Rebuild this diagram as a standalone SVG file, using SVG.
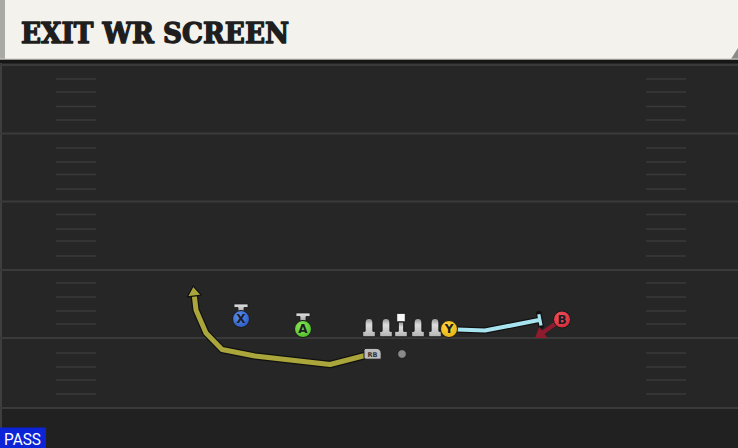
<svg xmlns="http://www.w3.org/2000/svg" width="738" height="448" viewBox="0 0 738 448">
<defs>
<style>
.yard{stroke:#3a3a3a;stroke-width:2}
.hash{stroke:#3a3a3a;stroke-width:1.5}
.lbl{font-family:"DejaVu Sans","Liberation Sans",sans-serif;font-weight:bold;font-size:12px;fill:#1c1c24;text-anchor:middle}
.ring{stroke:#1a1a1a;stroke-width:1}
.stance{fill:url(#gStance);stroke:#1a1a1a;stroke-width:0.8}
.lineman{fill:url(#gLine);stroke:#1a1a1a;stroke-width:1}
.out{fill:none;stroke:#111;stroke-linejoin:round;stroke-linecap:round}
</style>
<linearGradient id="gStance" x1="0" y1="0" x2="0" y2="1"><stop offset="0" stop-color="#e2e2e2"/><stop offset="1" stop-color="#a8a8a8"/></linearGradient>
<linearGradient id="gLine" x1="0" y1="0" x2="0" y2="1"><stop offset="0" stop-color="#8e8e8e"/><stop offset="0.35" stop-color="#dcdcdc"/><stop offset="1" stop-color="#b4b4b4"/></linearGradient>
<radialGradient id="gBlue" cx="0.4" cy="0.35" r="0.7"><stop offset="0" stop-color="#5b8ff0"/><stop offset="1" stop-color="#2a5bc0"/></radialGradient>
<radialGradient id="gGreen" cx="0.4" cy="0.35" r="0.7"><stop offset="0" stop-color="#8ee85a"/><stop offset="1" stop-color="#4cbc26"/></radialGradient>
<radialGradient id="gYellow" cx="0.4" cy="0.35" r="0.7"><stop offset="0" stop-color="#ffd83a"/><stop offset="1" stop-color="#e6b012"/></radialGradient>
<radialGradient id="gRed" cx="0.4" cy="0.35" r="0.7"><stop offset="0" stop-color="#f05560"/><stop offset="1" stop-color="#d02a36"/></radialGradient>
<marker id="arrYel" markerUnits="userSpaceOnUse" markerWidth="20" markerHeight="20" viewBox="-10 -10 20 20" refX="0" refY="0" orient="auto">
<polygon points="7,0 -3,-7 -3,7" fill="#aaa63c" stroke="#111" stroke-width="1.2" stroke-linejoin="round"/>
</marker>
<marker id="arrRed" markerUnits="userSpaceOnUse" markerWidth="20" markerHeight="20" viewBox="-10 -10 20 20" refX="0" refY="0" orient="auto">
<polygon points="6,0 -4,-7 -4,7" fill="#8e1b2e"/>
</marker>
</defs>

<!-- field -->
<rect x="0" y="0" width="738" height="448" fill="#262626"/>
<rect x="0" y="408" width="738" height="40" fill="#212121"/>
<rect x="0" y="59" width="2" height="389" fill="#3e3e3e"/>
<g id="yardlines">
<line class="yard" x1="0" y1="65" x2="738" y2="65"/>
<line class="yard" x1="0" y1="133.5" x2="738" y2="133.5"/>
<line class="yard" x1="0" y1="201.5" x2="738" y2="201.5"/>
<line class="yard" x1="0" y1="270" x2="738" y2="270"/>
<line class="yard" x1="0" y1="338" x2="738" y2="338"/>
<line class="yard" x1="0" y1="408" x2="738" y2="408"/>
</g>
<g id="hashes">
<path class="hash" d="M56 79H96M56 92H96M56 106.5H96M56 120H96M56 148H96M56 162H96M56 174.5H96M56 189H96M56 214.5H96M56 229H96M56 241H96M56 256H96M56 283H96M56 297H96M56 311H96M56 324H96M56 353H96M56 367H96M56 380H96M56 394H96"/>
<path class="hash" d="M646 79H686M646 92H686M646 106.5H686M646 120H686M646 148H686M646 162H686M646 174.5H686M646 189H686M646 214.5H686M646 229H686M646 241H686M646 256H686M646 283H686M646 297H686M646 311H686M646 324H686M646 353H686M646 367H686M646 380H686M646 394H686"/>
</g>

<!-- title bar -->
<g id="title">
<rect x="0" y="59" width="738" height="4" fill="#161616"/>
<rect x="0" y="0" width="738" height="59" fill="#f4f2ec"/>
<rect x="0" y="0" width="5" height="59" fill="#a9aaa8"/>
<polygon points="738,48 738,59 731,59" fill="#8a8a8a"/>
<rect x="0" y="58.5" width="738" height="1.2" fill="#cfcdc6"/>
<text x="21" y="42.5" font-family="'DejaVu Serif','Liberation Serif',serif" font-weight="bold" font-size="27" fill="#1e1e1e" stroke="#1e1e1e" stroke-width="1.4" stroke-linejoin="round" textLength="268" lengthAdjust="spacingAndGlyphs">EXIT WR SCREEN</text>
</g>

<!-- connectors -->
<g id="connectors">
<polyline class="out" stroke-width="7.5" points="365,355.5 330,364.5 255,356 222,349.5 206,333 196,310 194,294"/>
<polyline fill="none" stroke="#aaa63c" stroke-width="5" stroke-linejoin="round" stroke-linecap="round" points="365,355.5 330,364.5 255,356 222,349.5 206,333 196,310 194,293" marker-end="url(#arrYel)"/>
<polyline class="out" stroke-width="6.5" points="457,329.5 485,330.5 539,320"/>
<line class="out" stroke-width="5.5" x1="538.8" y1="313.5" x2="541" y2="326"/>
<polyline fill="none" stroke="#a8e4f0" stroke-width="4.2" stroke-linejoin="round" points="457,329.5 485,330.5 539,320"/>
<line stroke="#a8e4f0" stroke-width="3.2" stroke-linecap="butt" x1="538.8" y1="314.3" x2="541" y2="325.5"/>
<line stroke="#8e1b2e" stroke-width="4" x1="555" y1="324" x2="540" y2="334.5" marker-end="url(#arrRed)"/>
</g>

<!-- players -->
<g id="player-X">
<path class="stance" d="M234 304H248V307.5H244V312H238V307.5H234Z"/>
<circle class="ring" cx="241" cy="319" r="8.5" fill="url(#gBlue)"/>
<text class="lbl" x="241" y="323.3">X</text>
</g>
<g id="player-A">
<path class="stance" d="M296 313H310V316.5H306V321H300V316.5H296Z"/>
<circle class="ring" cx="303" cy="329" r="8.5" fill="url(#gGreen)"/>
<text class="lbl" x="303" y="333.3">A</text>
</g>
<g id="lineman-LT">
<path class="lineman" d="M369 318.3A3.9 3.9 0 0 1 372.9 322.2V331.3H375.3V336.8H362.7V331.3H365.1V322.2A3.9 3.9 0 0 1 369 318.3Z"/>
</g>
<g id="lineman-LG">
<path class="lineman" d="M386 318.3A3.9 3.9 0 0 1 389.9 322.2V331.3H392.3V336.8H379.7V331.3H382.1V322.2A3.9 3.9 0 0 1 386 318.3Z"/>
</g>
<g id="lineman-C">
<rect x="396.7" y="313.3" width="8.6" height="8.6" fill="#f8f8f8" stroke="#1a1a1a" stroke-width="1"/>
<path class="lineman" d="M398.3 322H403.7V331.3H407.3V336.8H394.7V331.3H398.3Z"/>
</g>
<g id="lineman-RG">
<path class="lineman" d="M418 318.3A3.9 3.9 0 0 1 421.9 322.2V331.3H424.3V336.8H411.7V331.3H414.1V322.2A3.9 3.9 0 0 1 418 318.3Z"/>
</g>
<g id="lineman-RT">
<path class="lineman" d="M435 318.3A3.9 3.9 0 0 1 438.9 322.2V331.3H441.3V336.8H428.7V331.3H431.1V322.2A3.9 3.9 0 0 1 435 318.3Z"/>
</g>
<g id="player-Y">
<circle class="ring" cx="449" cy="329" r="8.5" fill="url(#gYellow)"/>
<text class="lbl" x="449" y="333.3">Y</text>
</g>
<g id="player-QB">
<circle cx="402" cy="354" r="4.3" fill="#8a8a8a" stroke="#1a1a1a" stroke-width="0.8"/>
</g>
<g id="player-RB">
<path d="M366 348.3H376A5 5 0 0 1 381.2 353.5V359.2H366A2 2 0 0 1 364 357.2V350.3A2 2 0 0 1 366 348.3Z" fill="#bdbdbd" stroke="#1a1a1a" stroke-width="1"/>
<text x="372.5" y="356.8" font-family="'DejaVu Sans','Liberation Sans',sans-serif" font-weight="bold" font-size="6.5" fill="#333" text-anchor="middle">RB</text>
</g>
<g id="player-B">
<circle class="ring" cx="562" cy="319.5" r="8.5" fill="url(#gRed)"/>
<text class="lbl" x="562" y="323.8" fill="#2a1a1c">B</text>
</g>

<!-- tag -->
<g id="tag-pass">
<rect x="0" y="427.5" width="46" height="20.5" fill="#0b24d8"/>
<text x="4" y="445" font-family="Roboto,'Liberation Sans',sans-serif" font-size="16" fill="#ffffff" textLength="37" lengthAdjust="spacingAndGlyphs">PASS</text>
</g>
</svg>
